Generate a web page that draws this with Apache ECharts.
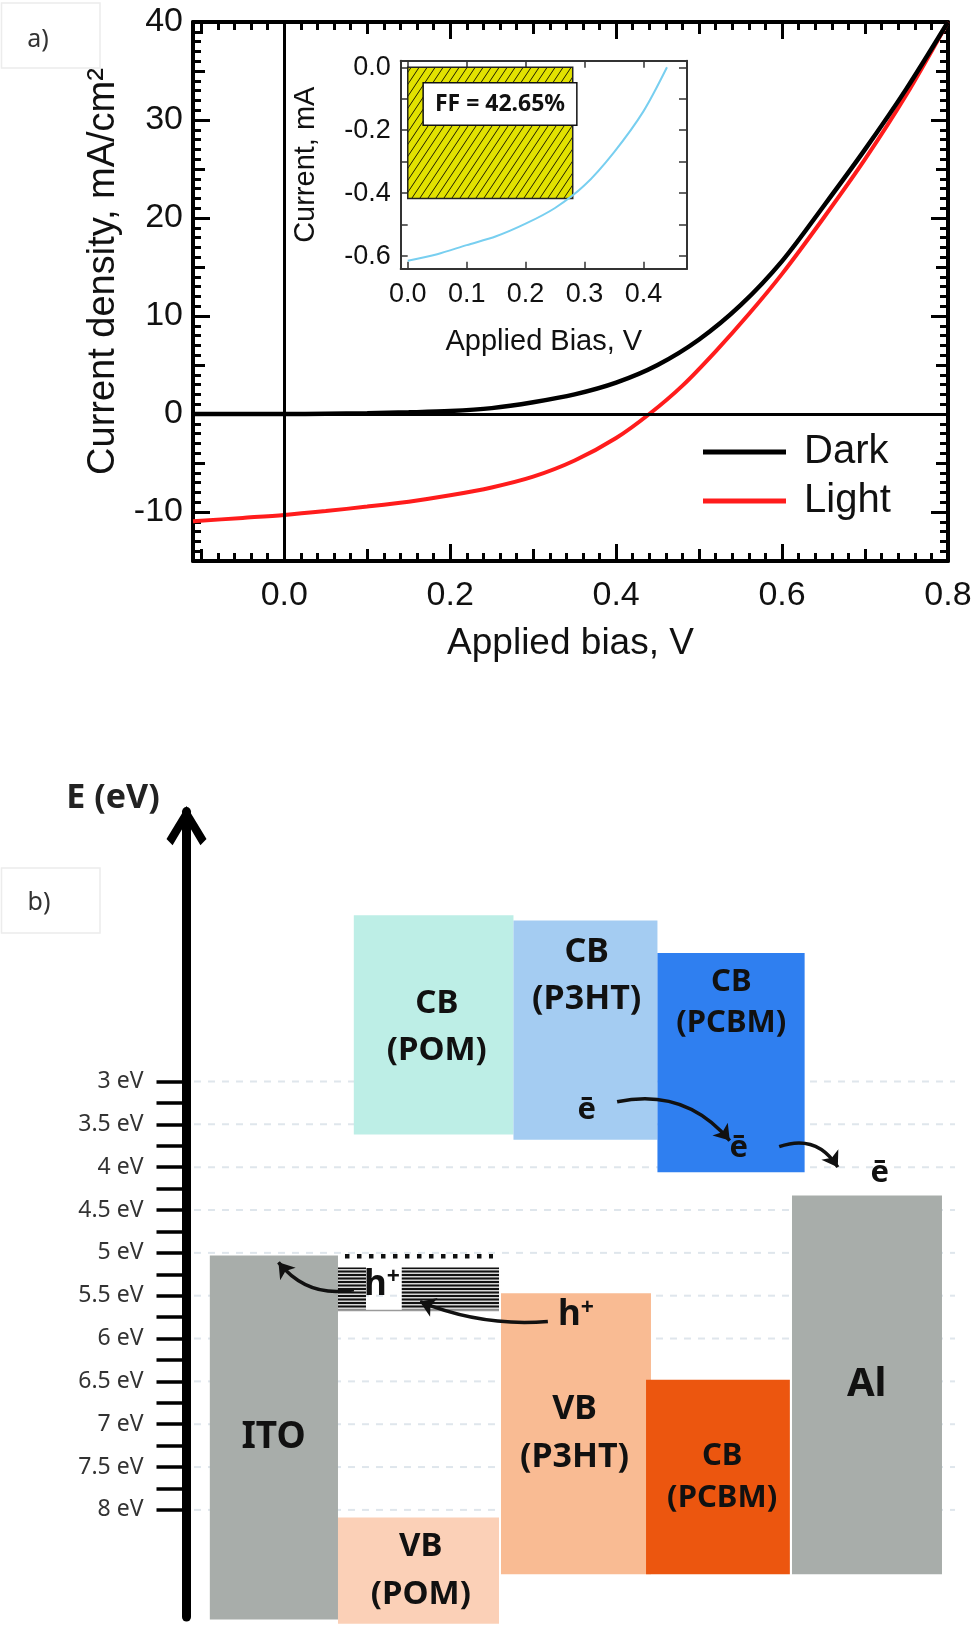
<!DOCTYPE html>
<html><head><meta charset="utf-8">
<script src="https://cdn.jsdelivr.net/npm/echarts@6/dist/echarts.min.js"></script>
<style>html,body{margin:0;padding:0;background:#fff}#c{width:979px;height:1627px}</style>
</head><body><div id="c"></div>
<script>
// ===== DATA: panel a) J-V curves =====
const biasDark = [-0.11, -0.05, 0, 0.05, 0.1, 0.15, 0.2, 0.25, 0.3, 0.35, 0.4, 0.45, 0.5, 0.55, 0.6, 0.65, 0.7, 0.75, 0.8];
const jDark    = [0, 0, 0, 0.03, 0.08, 0.17, 0.3, 0.6, 1.2, 2.0, 3.2, 5.0, 7.6, 11.1, 15.6, 21.2, 27.0, 33.2, 40];
const biasLight = [-0.11, -0.05, 0, 0.05, 0.1, 0.15, 0.2, 0.25, 0.3, 0.35, 0.4, 0.44, 0.48, 0.52, 0.56, 0.6, 0.65, 0.7, 0.75, 0.8];
const jLight    = [-10.95, -10.6, -10.3, -9.9, -9.45, -8.95, -8.3, -7.5, -6.4, -4.75, -2.45, 0, 2.9, 6.4, 10.2, 14.3, 20.0, 26.0, 32.6, 40];
const legendNames = ['Dark', 'Light'];
// inset
const insetBias    = [0, 0.05, 0.1, 0.15, 0.2, 0.25, 0.3, 0.35, 0.4, 0.44];
const insetCurrent = [-0.615, -0.594, -0.565, -0.537, -0.497, -0.447, -0.375, -0.27, -0.14, 0.0];
const mppBias = 0.28, mppCurrent = -0.417;
const ffText = 'FF = 42.65%';
// tick labels
const mainXTicks = [0, 0.2, 0.4, 0.6, 0.8];
const mainYTicks = [-10, 0, 10, 20, 30, 40];
const insetXTicks = [0, 0.1, 0.2, 0.3, 0.4];
const insetYTicks = [-0.6, -0.4, -0.2, 0];
// ===== DATA: panel b) energy levels (eV below vacuum) =====
const levelNames  = ['CB (POM)', 'CB (P3HT)', 'CB (PCBM)', 'Al', 'ITO', 'VB (POM)', 'VB (P3HT)', 'CB (PCBM)'];
const levelTop    = [1.06, 1.12, 1.50, 4.33, 5.03, 8.09, 5.47, 6.48];
const levelBottom = [3.62, 3.68, 4.06, 8.75, 9.28, 9.33, 8.75, 8.75];
const energyTicks = [3, 3.5, 4, 4.5, 5, 5.5, 6, 6.5, 7, 7.5, 8];
const trapLevel = 5.04, trapTop = 5.17, trapBottom = 5.66;
const carrierLabels = ['ē', 'ē', 'ē', 'h', 'h'];

// ===== LAYOUT / STYLE (not data) =====
const boxLayout = [
  {x0: 21.0,  x1: 41.98, color: '#bdeee6', lu: 31.9, le: 2.36, size: 33, lh: 47},
  {x0: 41.98, x1: 60.9,  color: '#a4ccf2', lu: 51.6, le: 1.77, size: 34, lh: 47},
  {x0: 60.9,  x1: 80.24, color: '#2f7ff0', lu: 70.6, le: 2.08, size: 31, lh: 41},
  {x0: 78.58, x1: 98.29, color: '#a8adaa', lu: 88.4, le: 6.54, size: 40, lh: 40},
  {x0: 2.08,  x1: 18.92, color: '#a8adaa', lu: 10.46, le: 7.15, size: 37, lh: 40},
  {x0: 18.92, x1: 40.08, color: '#fbd0b7', lu: 29.8, le: 8.71, size: 33, lh: 48},
  {x0: 40.34, x1: 60.05, color: '#f9bb93', lu: 50.0, le: 7.11, size: 34, lh: 48},
  {x0: 59.4,  x1: 78.3,  color: '#ec560f', lu: 69.4, le: 7.62, size: 31, lh: 42}
];
const carrierPos = [[51.6, 3.33], [71.6, 3.78], [90.1, 4.07], [24.7, 5.37], [50.2, 5.73]];
const arrowPaths = [
  {from: [55.6, 3.236], to: [70.4, 3.69], c: 0.3},
  {from: [76.9, 3.76],  to: [84.6, 4.0],  c: 0.4},
  {from: [46.5, 5.80],  to: [29.7, 5.57], c: 0.12},
  {from: [21.0, 5.43],  to: [11.1, 5.11], c: 0.3}
];
const trapLayout = {x0: 18.92, x1: 40.08, g0: 22.6, g1: 27.3};

function steps(a, b, s) { const o = []; const n = Math.round((b - a) / s); for (let k = 0; k <= n; k++) o.push(+(a + k * s).toFixed(4)); return o; }

function hatchCanvas() {
  const c = document.createElement('canvas'); c.width = 8; c.height = 12;
  const g = c.getContext('2d');
  g.fillStyle = '#e2e200'; g.fillRect(0, 0, 8, 12);
  g.strokeStyle = '#202000'; g.lineWidth = 1;
  g.beginPath(); g.moveTo(0, 12); g.lineTo(8, 0);
  g.moveTo(-1, 1.5); g.lineTo(1, -1.5); g.moveTo(7, 13.5); g.lineTo(9, 10.5); g.stroke();
  return c;
}
function stripeCanvas() {
  const c = document.createElement('canvas'); c.width = 4; c.height = 7;
  const g = c.getContext('2d');
  g.fillStyle = '#d6d6d6'; g.fillRect(0, 0, 4, 7);
  g.fillStyle = '#111'; g.fillRect(0, 0, 4, 2); g.fillRect(0, 3.5, 4, 2);
  return c;
}
const HATCH = {image: hatchCanvas(), repeat: 'repeat'};
const STRIPES = {image: stripeCanvas(), repeat: 'repeat'};

const F = 'Liberation Sans';
const NS = 'Noto Sans';

function tickOnly(kind, grid, position, min, max, ticks, len, line, lineW, color) {
  return {
    type: 'value', gridIndex: grid, position, min, max,
    axisLine: {show: !!line, onZero: false, lineStyle: {color: color || '#000', width: lineW || 4}},
    axisTick: {show: true, inside: true, length: len, customValues: ticks, lineStyle: {color: color || '#000', width: kind === 'inset' ? 1.5 : 3}},
    axisLabel: {show: false}, splitLine: {show: false}
  };
}

const XR = [-0.11, 0.8], YR = [-15, 40];
const xMid = [-0.1, 0.1, 0.3, 0.5, 0.7];
const xMinor = steps(-0.1, 0.8, 0.02);
const yMid = [-15, -5, 5, 15, 25, 35];
const yMinor = steps(-15, 40, 1);
const IXR = [-0.012, 0.474], IYR = [-0.64, 0.021];
const insetYTickMarks = steps(-0.6, 0, 0.1);

const xAxes = [
  {
    type: 'value', gridIndex: 0, position: 'bottom', min: XR[0], max: XR[1],
    axisLine: {show: true, onZero: false, lineStyle: {color: '#000', width: 4}},
    axisTick: {show: true, inside: true, length: 17, customValues: mainXTicks, lineStyle: {color: '#000', width: 3}},
    axisLabel: {show: true, customValues: mainXTicks, formatter: v => v.toFixed(1), fontSize: 34, fontFamily: F, color: '#111', margin: 18},
    splitLine: {show: false},
    name: 'Applied bias, V', nameLocation: 'middle', nameGap: 64,
    nameTextStyle: {fontSize: 37, fontFamily: F, color: '#111'}
  },
  tickOnly('main', 0, 'bottom', XR[0], XR[1], xMid, 12),
  tickOnly('main', 0, 'bottom', XR[0], XR[1], xMinor, 8),
  tickOnly('main', 0, 'top', XR[0], XR[1], mainXTicks, 17, true, 4),
  tickOnly('main', 0, 'top', XR[0], XR[1], xMid, 12),
  tickOnly('main', 0, 'top', XR[0], XR[1], xMinor, 8),
  {
    type: 'value', gridIndex: 1, position: 'bottom', min: IXR[0], max: IXR[1],
    axisLine: {show: true, onZero: false, lineStyle: {color: '#333', width: 2}},
    axisTick: {show: true, inside: true, length: 7, customValues: insetXTicks, lineStyle: {color: '#333', width: 1.5}},
    axisLabel: {show: true, customValues: insetXTicks, formatter: v => v.toFixed(1), fontSize: 27, fontFamily: F, color: '#111', margin: 12},
    splitLine: {show: false},
    name: 'Applied Bias, V', nameLocation: 'middle', nameGap: 59,
    nameTextStyle: {fontSize: 29, fontFamily: F, color: '#111'}
  },
  tickOnly('inset', 1, 'top', IXR[0], IXR[1], insetXTicks, 7, true, 2, '#333'),
  {type: 'value', gridIndex: 2, min: 0, max: 100, show: false}
];

const yAxes = [
  {
    type: 'value', gridIndex: 0, position: 'left', min: YR[0], max: YR[1],
    axisLine: {show: true, onZero: false, lineStyle: {color: '#000', width: 4}},
    axisTick: {show: true, inside: true, length: 17, customValues: mainYTicks, lineStyle: {color: '#000', width: 3}},
    axisLabel: {show: true, customValues: mainYTicks, formatter: v => String(v), fontSize: 34, fontFamily: F, color: '#111', margin: 10},
    splitLine: {show: false},
    name: 'Current density, mA/cm²', nameLocation: 'middle', nameGap: 63, nameRotate: 90,
    nameTextStyle: {fontSize: 38, fontFamily: F, color: '#111', padding: [0, 0, 0, 40]}
  },
  tickOnly('main', 0, 'left', YR[0], YR[1], yMid, 12),
  tickOnly('main', 0, 'left', YR[0], YR[1], yMinor, 8),
  tickOnly('main', 0, 'right', YR[0], YR[1], mainYTicks, 17, true, 4),
  tickOnly('main', 0, 'right', YR[0], YR[1], yMid, 12),
  tickOnly('main', 0, 'right', YR[0], YR[1], yMinor, 8),
  {
    type: 'value', gridIndex: 1, position: 'left', min: IYR[0], max: IYR[1],
    axisLine: {show: true, onZero: false, lineStyle: {color: '#333', width: 2}},
    axisTick: {show: true, inside: true, length: 7, customValues: insetYTickMarks, lineStyle: {color: '#333', width: 1.5}},
    axisLabel: {show: true, customValues: insetYTicks, formatter: v => (Math.abs(v) < 1e-9 ? '0.0' : v.toFixed(1)), fontSize: 27, fontFamily: F, color: '#111', margin: 10},
    splitLine: {show: false},
    name: 'Current, mA', nameLocation: 'middle', nameGap: 80, nameRotate: 90,
    nameTextStyle: {fontSize: 29, fontFamily: F, color: '#111'}
  },
  tickOnly('inset', 1, 'right', IYR[0], IYR[1], insetYTickMarks, 8, true, 2, '#333'),
  {
    type: 'value', gridIndex: 2, position: 'left', offset: 7.5, min: -9.25, max: 0.15,
    axisLine: {show: true, onZero: false, lineStyle: {color: '#000', width: 9},
      symbol: ['none', 'path://M23,0L46,38L39,45L23,18L7,45L0,38Z'], symbolSize: [40, 42], symbolOffset: [0, -14]},
    axisTick: {show: true, inside: false, length: 30, customValues: steps(-8, -3, 0.25), lineStyle: {color: '#000', width: 3.5}},
    axisLabel: {show: true, customValues: energyTicks.map(v => -v), formatter: v => String(+(-v).toFixed(2)) + ' eV', fontSize: 23, fontFamily: NS, color: '#333', margin: 43},
    splitLine: {show: false}
  }
];

const series = [
  {
    name: 'zero', type: 'line', xAxisIndex: 0, yAxisIndex: 0, data: [[0, 0]], showSymbol: false,
    lineStyle: {opacity: 0}, silent: true, z: 1,
    markLine: {silent: true, symbol: ['none', 'none'], label: {show: false}, animation: false,
      lineStyle: {color: '#000', width: 3, type: 'solid'}, emphasis: {disabled: true},
      data: [{yAxis: 0}, {xAxis: 0}]}
  },
  {
    name: 'Light', type: 'line', xAxisIndex: 0, yAxisIndex: 0, z: 3,
    data: biasLight.map((v, i) => [v, jLight[i]]), showSymbol: false, smooth: 0.3,
    lineStyle: {color: '#ff1c1c', width: 4}, itemStyle: {color: '#ff1c1c'}
  },
  {
    name: 'Dark', type: 'line', xAxisIndex: 0, yAxisIndex: 0, z: 4,
    data: biasDark.map((v, i) => [v, jDark[i]]), showSymbol: false, smooth: 0.3,
    lineStyle: {color: '#000', width: 4.5}, itemStyle: {color: '#000'}
  },
  {
    name: 'inset', type: 'line', xAxisIndex: 6, yAxisIndex: 6, z: 3,
    data: insetBias.map((v, i) => [v, insetCurrent[i]]), showSymbol: false, smooth: 0.3,
    lineStyle: {color: '#78cff0', width: 2}, itemStyle: {color: '#78cff0'},
    markArea: {silent: true, animation: false, itemStyle: {color: HATCH, borderColor: '#222', borderWidth: 1.5},
      data: [[{coord: [0, 0]}, {coord: [mppBias, mppCurrent]}]]}
  },
  {
    name: 'grid-e', type: 'custom', xAxisIndex: 8, yAxisIndex: 8, z: 1, silent: true,
    data: energyTicks.map(v => [50, -v]),
    encode: {x: 0, y: 1},
    renderItem(params, api) {
      const cs = params.coordSys;
      const y = api.coord([50, api.value(1)])[1];
      return {type: 'line', shape: {x1: cs.x, y1: y, x2: cs.x + cs.width, y2: y}, style: {stroke: '#dfe6ec', lineWidth: 2, lineDash: [7, 7]}};
    }
  },
  {
    name: 'levels', type: 'custom', xAxisIndex: 8, yAxisIndex: 8, z: 3, silent: true,
    data: levelNames.map((n, i) => [boxLayout[i].x0, boxLayout[i].x1, -levelTop[i], -levelBottom[i], i]),
    encode: {x: [0, 1], y: [2, 3]},
    renderItem(params, api) {
      const i = api.value(4);
      const p0 = api.coord([api.value(0), api.value(2)]);
      const p1 = api.coord([api.value(1), api.value(3)]);
      return {type: 'rect', shape: {x: p0[0], y: p0[1], width: p1[0] - p0[0], height: p1[1] - p0[1]}, style: {fill: boxLayout[i].color}};
    }
  },
  {
    name: 'trap', type: 'custom', xAxisIndex: 8, yAxisIndex: 8, z: 4, silent: true,
    data: [[trapLayout.x0, trapLayout.x1, -trapTop, -trapBottom, -trapLevel]],
    encode: {x: [0, 1], y: [2, 3]},
    renderItem(params, api) {
      const a = api.coord([api.value(0), api.value(2)]);
      const b = api.coord([api.value(1), api.value(3)]);
      const g0 = api.coord([trapLayout.g0, 0])[0], g1 = api.coord([trapLayout.g1, 0])[0];
      const yd = api.coord([0, api.value(4)])[1];
      return {type: 'group', children: [
        {type: 'rect', shape: {x: a[0], y: a[1], width: g0 - a[0], height: b[1] - a[1]}, style: {fill: STRIPES}},
        {type: 'rect', shape: {x: g1, y: a[1], width: b[0] - g1, height: b[1] - a[1]}, style: {fill: STRIPES}},
        {type: 'line', shape: {x1: a[0], y1: b[1] + 1, x2: b[0], y2: b[1] + 1}, style: {stroke: '#9a9a9a', lineWidth: 1.5}},
        {type: 'line', shape: {x1: a[0] + 7, y1: yd, x2: b[0] - 6, y2: yd}, style: {stroke: '#111', lineWidth: 4.5, lineDash: [4.5, 7.5]}}
      ]};
    }
  },
  {
    name: 'arrows', type: 'lines', coordinateSystem: 'cartesian2d', xAxisIndex: 8, yAxisIndex: 8, z: 6, silent: true,
    symbol: ['none', 'arrow'], symbolSize: 15,
    lineStyle: {color: '#111', width: 3.5, opacity: 1},
    data: arrowPaths.map(p => ({coords: [[p.from[0], -p.from[1]], [p.to[0], -p.to[1]]], lineStyle: {curveness: p.c}}))
  },
  {
    name: 'levelLabels', type: 'custom', xAxisIndex: 8, yAxisIndex: 8, z: 7, silent: true,
    data: levelNames.map((n, i) => [boxLayout[i].lu, -boxLayout[i].le, i]),
    encode: {x: 0, y: 1},
    renderItem(params, api) {
      const i = api.value(2), L = boxLayout[i];
      const p = api.coord([api.value(0), api.value(1)]);
      return {type: 'text', x: p[0], y: p[1], style: {text: levelNames[i].replace(' ', '\n'), fill: '#111',
        font: `bold ${L.size}px "${NS}"`, align: 'center', verticalAlign: 'middle', lineHeight: L.lh}};
    }
  },
  {
    name: 'carriers', type: 'custom', xAxisIndex: 8, yAxisIndex: 8, z: 7, silent: true,
    data: carrierLabels.map((t, i) => [carrierPos[i][0], -carrierPos[i][1], i]),
    encode: {x: 0, y: 1},
    renderItem(params, api) {
      const i = api.value(2);
      const p = api.coord([api.value(0), api.value(1)]);
      const isHole = carrierLabels[i] === 'h';
      return {type: 'text', x: p[0], y: p[1], style: isHole ? {
        text: '{h|h}{p|+}', align: 'center', verticalAlign: 'middle',
        rich: {h: {fontSize: 35, fontWeight: 'bold', fontFamily: NS, fill: '#111', color: '#111'},
               p: {fontSize: 23, fontWeight: 'bold', fontFamily: NS, fill: '#111', color: '#111', verticalAlign: 'top', padding: [0, 0, 14, 0]}}
      } : {text: carrierLabels[i], fill: '#111', font: `bold 31px "${NS}"`, align: 'center', verticalAlign: 'middle'}};
    }
  }
];

const option = {
  animation: false,
  backgroundColor: '#fff',
  grid: [
    {left: 193, top: 22, width: 755, height: 539, outerBoundsMode: 'none', containLabel: false},
    {left: 400.7, top: 60.7, width: 286.3, height: 208, outerBoundsMode: 'none', containLabel: false},
    {left: 194, top: 811.6, width: 761, height: 805.4, outerBoundsMode: 'none', containLabel: false}
  ],
  legend: {
    data: legendNames, orient: 'vertical', left: 698, top: 425, icon: 'rect', itemWidth: 83, itemHeight: 5, itemGap: 5,
    selectedMode: false, textStyle: {fontSize: 40, fontFamily: F, color: '#111', lineHeight: 44, padding: [0, 0, 0, 13]}
  },
  xAxis: xAxes,
  yAxis: yAxes,
  series,
  graphic: [
    {type: 'rect', shape: {x: 1.5, y: 3, width: 98.5, height: 65}, style: {fill: 'none', stroke: '#ececec', lineWidth: 1.5}, silent: true},
    {type: 'text', x: 38, y: 40, style: {text: 'a)', font: `25px "${NS}"`, fill: '#333', align: 'center', verticalAlign: 'middle'}, silent: true},
    {type: 'rect', shape: {x: 1.5, y: 868, width: 98.5, height: 65}, style: {fill: 'none', stroke: '#ececec', lineWidth: 1.5}, silent: true},
    {type: 'text', x: 39, y: 903, style: {text: 'b)', font: `25px "${NS}"`, fill: '#333', align: 'center', verticalAlign: 'middle'}, silent: true},
    {type: 'text', x: 500, y: 104, z: 100, style: {text: ffText, font: `bold 23px "${NS}"`, fill: '#111', align: 'center', verticalAlign: 'middle',
      backgroundColor: '#fff', borderColor: '#111', borderWidth: 1.5, padding: [9, 11]}, silent: true},
    {type: 'text', x: 113, y: 798, style: {text: 'E (eV)', font: `bold 34px "${NS}"`, fill: '#222', align: 'center', verticalAlign: 'middle'}, silent: true}
  ]
};

const chart = echarts.init(document.getElementById('c'), null, {renderer: 'canvas', width: 979, height: 1627});
chart.setOption(option);
</script>
</body></html>
